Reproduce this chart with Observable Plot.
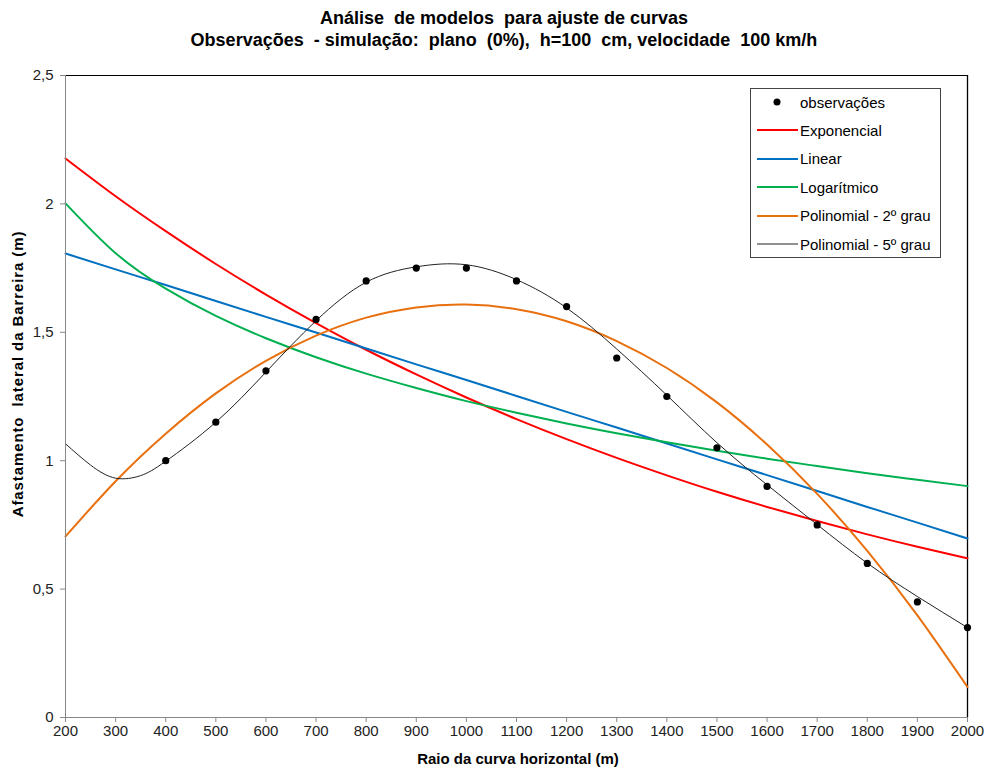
<!DOCTYPE html>
<html>
<head>
<meta charset="utf-8">
<script src="https://cdn.jsdelivr.net/npm/d3@7"></script>
<script src="https://cdn.jsdelivr.net/npm/@observablehq/plot@0.6"></script>
<style>
  html, body { margin: 0; padding: 0; background: #fff; }
  body { font-family: "Liberation Sans", Arial, sans-serif; }
  #wrap { position: relative; width: 985px; height: 767px; overflow: hidden; }
  #chart { position: absolute; left: 0; top: 0; }
  .title { position: absolute; left: 104px; width: 800px; text-align: center; font-weight: bold; font-size: 18px; color: #000; white-space: pre; }
  .axlabel { position: absolute; font-weight: bold; font-size: 15px; color: #000; white-space: pre; }
  #legend { position: absolute; left: 750px; top: 88px; width: 191px; height: 170px; border: 1px solid #444; background: #fff; box-sizing: border-box; }
  .lrow { position: absolute; left: 6px; height: 18px; font-size: 15px; color: #000; display: flex; align-items: center; white-space: pre; }
  .lrow svg { margin-right: 2px; }
</style>
</head>
<body>
<div id="wrap">
  <div id="chart"></div>
  <div class="title" style="top:8px">Análise  de modelos  para ajuste de curvas</div>
  <div class="title" style="top:30px">Observações  - simulação:  plano  (0%),  h=100  cm, velocidade  100 km/h</div>
  <div class="axlabel" id="xlab" style="left:0; top:750px; width:1036px; text-align:center;">Raio da curva horizontal (m)</div>
  <div class="axlabel" id="ylab" style="left:17px; top:374px; letter-spacing:0.9px; transform: translate(-50%,-50%) rotate(-90deg);">Afastamento  lateral da Barreira (m)</div>
  <div id="legend"></div>
</div>
<script>
// Observations
const xObs = [400, 500, 600, 700, 800, 900, 1000, 1100, 1200, 1300, 1400, 1500, 1600, 1700, 1800, 1900, 2000];
const yObs = [1.00, 1.15, 1.35, 1.55, 1.70, 1.75, 1.75, 1.70, 1.60, 1.40, 1.25, 1.05, 0.90, 0.75, 0.60, 0.45, 0.35];

// Trend curves at every 100 m
const xCurve = [200, 300, 400, 500, 600, 700, 800, 900, 1000, 1100, 1200, 1300, 1400, 1500, 1600, 1700, 1800, 1900, 2000];
const yExp   = [2.177, 2.030, 1.894, 1.766, 1.647, 1.536, 1.432, 1.336, 1.246, 1.162, 1.084, 1.011, 0.943, 0.879, 0.820, 0.765, 0.713, 0.665, 0.620];
const yLin   = [1.807, 1.745, 1.684, 1.622, 1.560, 1.499, 1.437, 1.375, 1.314, 1.252, 1.190, 1.129, 1.067, 1.005, 0.944, 0.882, 0.820, 0.759, 0.697];
const yLog   = [2.002, 1.808, 1.670, 1.564, 1.477, 1.403, 1.339, 1.283, 1.232, 1.187, 1.145, 1.107, 1.072, 1.039, 1.008, 0.979, 0.951, 0.926, 0.901];
const yPoly2 = [0.705, 0.920, 1.105, 1.262, 1.389, 1.487, 1.557, 1.597, 1.608, 1.590, 1.543, 1.466, 1.361, 1.227, 1.063, 0.871, 0.649, 0.398, 0.119];
const xPoly5 = [200, 250, 300, 350, 400, 500, 600, 700, 800, 900, 1000, 1100, 1200, 1300, 1400, 1500, 1600, 1700, 1800, 1900, 2000];
const yPoly5 = [1.066, 0.983, 0.932, 0.942, 0.998, 1.150, 1.345, 1.545, 1.695, 1.755, 1.763, 1.705, 1.595, 1.435, 1.255, 1.070, 0.906, 0.751, 0.601, 0.471, 0.350];

const xTicks = [200, 300, 400, 500, 600, 700, 800, 900, 1000, 1100, 1200, 1300, 1400, 1500, 1600, 1700, 1800, 1900, 2000];
const yTicks = [0, 0.5, 1, 1.5, 2, 2.5];

const seriesNames = ["Exponencial", "Linear", "Logarítmico", "Polinomial - 2º grau", "Polinomial - 5º grau"];
const seriesColors = ["#ff0000", "#0070c0", "#00b050", "#e8700f", "#222222"];
const seriesWidths = [2, 2, 2, 2, 1];

const obs = xObs.map((x, i) => ({x, y: yObs[i]}));
const curveData = [yExp, yLin, yLog, yPoly2].map(ys => xCurve.map((x, i) => ({x, y: ys[i]})));
curveData.push(xPoly5.map((x, i) => ({x, y: yPoly5[i]})));

const chart = Plot.plot({
  width: 985,
  height: 767,
  marginLeft: 65,
  marginRight: 18,
  marginTop: 75,
  marginBottom: 50,
  style: { fontFamily: "'Liberation Sans', Arial, sans-serif", background: "transparent" },
  x: { domain: [200, 2000] },
  y: { domain: [0, 2.5] },
  marks: [
    Plot.ruleY([2.5], { stroke: "#000", strokeWidth: 1 }),
    Plot.ruleX([2000], { stroke: "#000", strokeWidth: 1.3 }),
    ...curveData.slice(0, 4).map((d, i) => Plot.line(d, { x: "x", y: "y", curve: "natural", stroke: seriesColors[i], strokeWidth: seriesWidths[i] })),
    Plot.line(curveData[4], { x: "x", y: "y", curve: "natural", stroke: seriesColors[4], strokeWidth: seriesWidths[4] }),
    Plot.dot(obs, { x: "x", y: "y", r: 3.6, fill: "#000" }),
    Plot.ruleX([200], { stroke: "#888", strokeWidth: 1 }),
    Plot.ruleY([0], { stroke: "#888", strokeWidth: 1 }),
    Plot.axisX({ ticks: xTicks, tickFormat: d => String(d), tickSize: 5, tickPadding: 3, stroke: "#888", fill: "#222", fontSize: 15, label: null }),
    Plot.axisY({ ticks: yTicks, tickFormat: d => String(d).replace(".", ","), tickSize: 5, tickPadding: 7, stroke: "#888", fill: "#222", fontSize: 15, label: null })
  ]
});
document.getElementById("chart").appendChild(chart);

// Legend
const legend = document.getElementById("legend");
const rows = [{name: "observações", dot: true}].concat(seriesNames.map((n, i) => ({name: n, color: seriesColors[i], w: seriesWidths[i]})));
rows.forEach((r, i) => {
  const row = document.createElement("div");
  row.className = "lrow";
  row.style.top = (4 + i * 28.4) + "px";
  const sw = r.dot
    ? `<svg width="41" height="10"><circle cx="20" cy="5" r="3.5" fill="#000"/></svg>`
    : `<svg width="41" height="10"><line x1="0" x2="41" y1="5" y2="5" stroke="${r.color}" stroke-width="${r.w}"/></svg>`;
  row.innerHTML = sw + `<span>${r.name}</span>`;
  legend.appendChild(row);
});
</script>
</body>
</html>
